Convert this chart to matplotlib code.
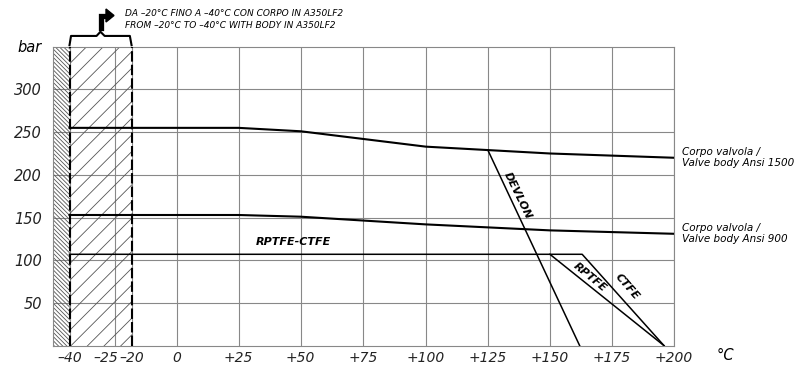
import matplotlib.pyplot as plt
import matplotlib.patches as mpatches
import matplotlib.transforms as mtransforms
import numpy as np

# drawing scale of the temperature axis (the sheet is not linear left of 0)
scale_t = [-50, -40, -25, -20, 0, 25, 50, 75, 100, 125, 150, 175, 200, 250]
scale_p = [40, 70, 115, 132, 177, 239, 301, 363, 426, 488, 550, 612, 674, 798]

xticks = [-40, -25, -20, 0, 25, 50, 75, 100, 125, 150, 175, 200]
xlabels = ['\u201340', '\u201325', '\u201320', '0', '+25', '+50', '+75',
           '+100', '+125', '+150', '+175', '+200']
yticks = [50, 100, 150, 200, 250, 300]

# ANSI body ratings
t_1500 = [-40, 25, 50, 100, 150, 200]
p_1500 = [255, 255, 251, 233, 225, 220]
t_900 = [-40, 25, 50, 100, 150, 200]
p_900 = [153, 153, 151, 142, 135, 131]

# seat materials
t_ctfe = [-40, 163, 196]
p_ctfe = [107, 107, 0]
t_rptfe = [150, 196]
p_rptfe = [107, 0]
t_devlon = [125, 162]
p_devlon = [229, 0]


def fwd(t):
    return np.interp(t, scale_t, scale_p)


def inv(p):
    return np.interp(p, scale_p, scale_t)


def fp(x, y):
    return (x / 800, 1 - y / 380)


plt.rcParams['hatch.linewidth'] = 0.6

fig = plt.figure(figsize=(8, 3.8), dpi=100)
ax = fig.add_axes([53 / 800, 1 - 345.7 / 380, 621 / 800, 299 / 380])
ax.set_xscale('function', functions=(fwd, inv))
ax.set_xlim(-45.5, 200)
ax.set_ylim(0, 350)

ax.set_xticks(xticks)
ax.set_xticklabels(xlabels)
ax.set_yticks(yticks)
ax.tick_params(length=0, labelsize=10.5)
ax.tick_params(axis='x', pad=4, labelsize=10)
ax.tick_params(axis='y', pad=8)
for lab in ax.get_xticklabels() + ax.get_yticklabels():
    lab.set_fontstyle('italic')
    lab.set_color('#222222')
# the -25 label sits a little left of its line on the sheet
lab25 = ax.get_xticklabels()[1]
lab25.set_transform(lab25.get_transform() +
                    mtransforms.ScaledTranslation(-9 / 100, 0, fig.dpi_scale_trans))
ax.grid(True, color='#888888', lw=0.8)
ax.set_axisbelow(True)
for s in ax.spines.values():
    s.set_color('#888888')
    s.set_linewidth(0.8)

# hatched low-temperature zones
ax.axvspan(-45.5, -40, fill=False, hatch='\\' * 8, edgecolor='#555555', lw=0, zorder=1)
ax.axvspan(-40, -20, fill=False, hatch='//', edgecolor='#555555', lw=0, zorder=1)
for xv in (-40, -20):
    ax.axvline(xv, color='black', lw=1.5, ls=(0, (5, 1.5)), zorder=3)

kw = dict(color='black', lw=1.5, zorder=4)
ax.plot(t_1500, p_1500, **kw)
ax.plot(t_900, p_900, **kw)
kw['lw'] = 1.1
ax.plot(t_ctfe, p_ctfe, **kw)
ax.plot(t_rptfe, p_rptfe, **kw)
ax.plot(t_devlon, p_devlon, **kw)

bold = dict(fontsize=8, fontweight='bold', fontstyle='italic', ha='center', va='center')
ax.text(47, 121, 'RPTFE-CTFE', **bold)
ax.text(137, 176, 'DEVLON', rotation=-64, **bold)
ax.text(166, 80, 'RPTFE', rotation=-39.5, **bold)
ax.text(181, 69, 'CTFE', rotation=-49, **bold)

for t, p, name in [(t_1500, p_1500, 'Ansi 1500'), (t_900, p_900, 'Ansi 900')]:
    ax.annotate('Corpo valvola /\nValve body ' + name, xy=(t[-1], p[-1]),
                xytext=(6, 0), textcoords='offset points', va='center', ha='left',
                fontsize=7.5, fontstyle='italic', linespacing=1.15, annotation_clip=False)

# brace over the hatched zone
bt = ax.get_xaxis_transform()
ax.plot([-40, -39.5, -31, -29.7, -28.3, -20.5, -20],
        [1.005, 1.036, 1.036, 1.05, 1.036, 1.036, 1.005],
        color='black', lw=1.5, transform=bt, clip_on=False)

# bent arrow
fig.lines.append(plt.Line2D(*zip(fp(101, 28), fp(101, 16), fp(106.5, 16)),
                            color='black', lw=3.8, solid_joinstyle='miter',
                            transform=fig.transFigure))
fig.patches.append(mpatches.Polygon([fp(106, 9), fp(114, 15.5), fp(106, 22)],
                                    closed=True, color='black', transform=fig.transFigure))

fig.text(*fp(125, 13), 'DA \u201320\u00b0C FINO A \u201340\u00b0C CON CORPO IN A350LF2',
         fontsize=6.5, fontstyle='italic', va='center', ha='left')
fig.text(*fp(125, 25), 'FROM \u201320\u00b0C TO \u201340\u00b0C WITH BODY IN A350LF2',
         fontsize=6.5, fontstyle='italic', va='center', ha='left')
fig.text(*fp(30, 47), 'bar', fontsize=10.5, fontstyle='italic', va='center', ha='center')
fig.text(*fp(725, 355), '\u00b0C', fontsize=10.5, fontstyle='italic', va='center', ha='center')

fig.savefig('out.png', dpi=100)
